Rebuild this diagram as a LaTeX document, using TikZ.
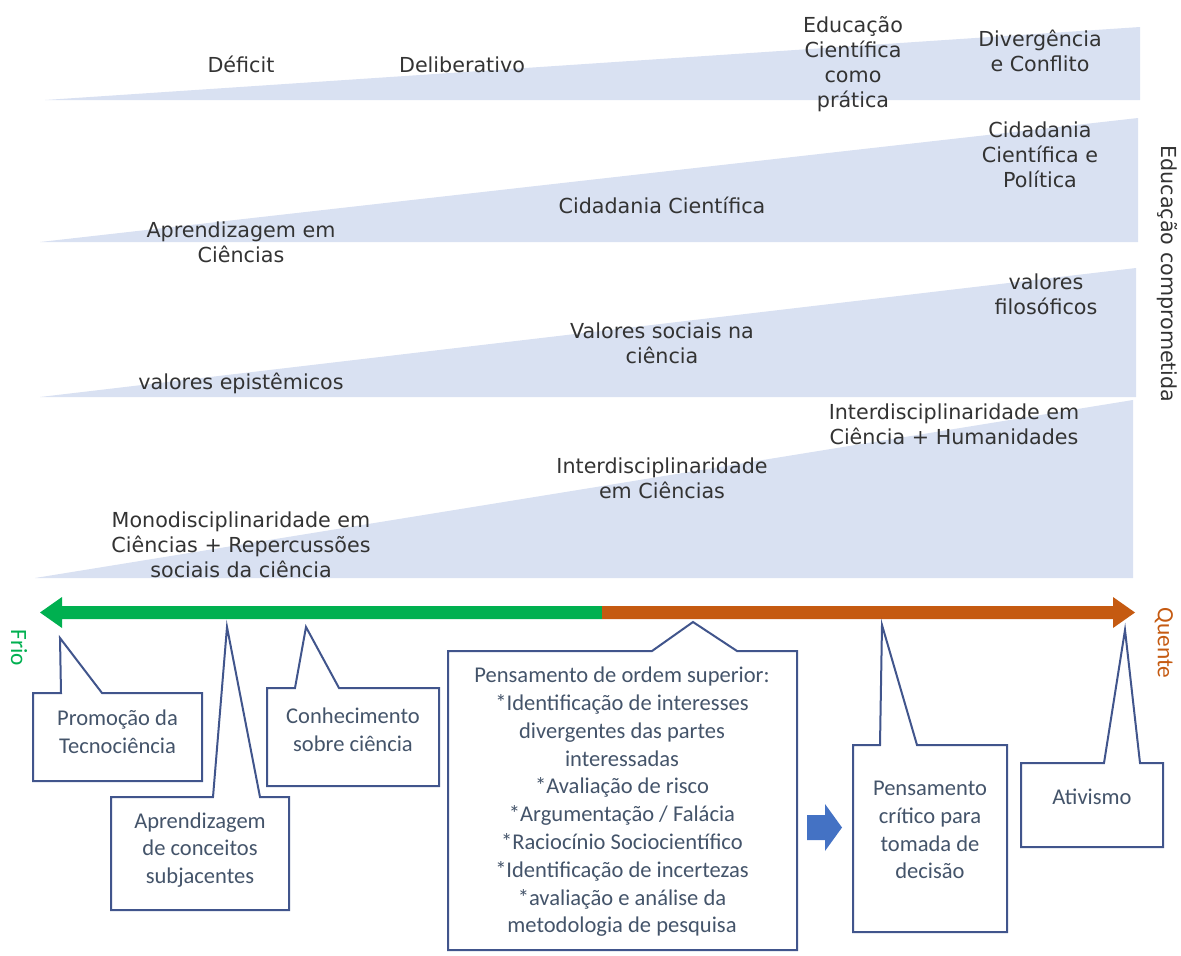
\documentclass[tikz,border=0pt]{standalone}
\usepackage{fontspec}
\setmainfont{Carlito}
\newfontfamily\topfont{DejaVu Sans}
\newfontfamily\callfont{Carlito}
\definecolor{wedge}{HTML}{D9E1F2}
\definecolor{grn}{HTML}{00B050}
\definecolor{org}{HTML}{C55A11}
\definecolor{calltxt}{HTML}{44546A}
\definecolor{callline}{RGB}{65,85,140}
\definecolor{blk}{HTML}{4472C4}
\definecolor{toptxt}{HTML}{333333}
\begin{document}
\begin{tikzpicture}[x=0.75pt,y=-0.75pt,
  toplabel/.style={font=\topfont\fontsize{15.5}{18.75}\selectfont, text=toptxt, align=center, inner sep=0pt},
  calltext/.style={font=\callfont\fontsize{16.9}{20.85}\selectfont, text=calltxt, align=center, inner sep=0pt},
  bubble/.style={draw=callline, line width=1.5pt, fill=white, line join=miter},
  wedgefill/.style={fill=wedge},
  endlabel/.style={font=\callfont\fontsize{17.5}{20}\selectfont, rotate=-90, inner sep=0pt}]
\useasboundingbox (0,0) rectangle (1181,956);
% wedges
\fill[wedgefill] (45,100) -- (1140,27) -- (1140,100) -- cycle;
\fill[wedgefill] (40,242) -- (1138,118) -- (1138,242) -- cycle;
\fill[wedgefill] (40,397) -- (1136,268) -- (1136,397) -- cycle;
\fill[wedgefill] (35,578) -- (1133,400) -- (1133,578) -- cycle;
% top labels
\node[toplabel] (deficit) at (241,64) {Déficit};
\node[toplabel] (delib) at (462,65) {Deliberativo};
\node[toplabel] (edprat) at (853,64) {Educação\\Científica\\como\\prática};
\node[toplabel] (diverg) at (1040,51) {Divergência\\e Conflito};
\node[toplabel] (cidpol) at (1040,155) {Cidadania\\Científica e\\Política};
\node[toplabel] (cidcie) at (662,205) {Cidadania Científica};
\node[toplabel] (aprcie) at (241,242) {Aprendizagem em\\Ciências};
\node[toplabel] (valfil) at (1046,294) {valores\\filosóficos};
\node[toplabel] (valsoc) at (662,343) {Valores sociais na\\ciência};
\node[toplabel] (valepi) at (241,383) {valores epistêmicos};
\node[toplabel] (interhum) at (954,424) {Interdisciplinaridade em\\Ciência + Humanidades};
\node[toplabel] (intercie) at (662,478) {Interdisciplinaridade\\em Ciências};
\node[toplabel] (mono) at (241,545) {Monodisciplinaridade em\\Ciências + Repercussões\\sociais da ciência};
\node[toplabel, rotate=-90] (edcomp) at (1167,274) {Educação comprometida};
% main arrow
\fill[grn] (602,606) -- (62,606) -- (62,597) -- (40,612.5) -- (62,628) -- (62,619) -- (602,619) -- cycle;
\fill[org] (602,606) -- (1113,606) -- (1113,597) -- (1135,612.5) -- (1113,628) -- (1113,619) -- (602,619) -- cycle;
\node[endlabel, text=grn] (frio) at (19,648) {Frio};
\node[endlabel, text=org] (quente) at (1164,643) {Quente};
% callout 1
\draw[bubble] (33,693) -- (61,693) -- (60,638) -- (102,693) -- (202,693) -- (202,781) -- (33,781) -- cycle;
\node[calltext] (c1) at (117.5,732) {Promoção da\\Tecnociência};
% callout 2
\draw[bubble] (111,797) -- (213,797) -- (227,627) -- (260,797) -- (289,797) -- (289,910) -- (111,910) -- cycle;
\node[calltext] (c2) at (200,850) {Aprendizagem\\de conceitos\\subjacentes};
% callout 3
\draw[bubble] (267,688) -- (295,688) -- (306,627) -- (339,688) -- (439,688) -- (439,786) -- (267,786) -- cycle;
\node[calltext] (c3) at (353,730) {Conhecimento\\sobre ciência};
% callout 4
\draw[bubble] (448,651) -- (652,651) -- (693,622) -- (737,651) -- (797,651) -- (797,950) -- (448,950) -- cycle;
\node[calltext] (c4) at (622,802) {Pensamento de ordem superior:\\*Identificação de interesses\\divergentes das partes\\interessadas\\*Avaliação de risco\\*Argumentação / Falácia\\*Raciocínio Sociocientífico\\*Identificação de incertezas\\*avaliação e análise da\\metodologia de pesquisa};
% block arrow
\fill[blk] (807,815) -- (825,815) -- (825,804) -- (842,827.5) -- (825,851) -- (825,840) -- (807,840) -- cycle;
% callout 5
\draw[bubble] (853,745) -- (880,745) -- (882,625) -- (917,745) -- (1007,745) -- (1007,932) -- (853,932) -- cycle;
\node[calltext] (c5) at (930,830) {Pensamento\\crítico para\\tomada de\\decisão};
% callout 6
\draw[bubble] (1021,763) -- (1104,763) -- (1125,630) -- (1140,763) -- (1163,763) -- (1163,847) -- (1021,847) -- cycle;
\node[calltext] (c6) at (1092,797) {Ativismo};
\end{tikzpicture}
\end{document}
